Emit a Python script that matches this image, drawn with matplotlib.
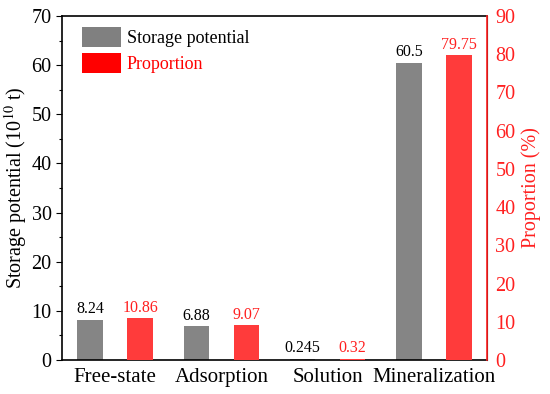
import matplotlib
matplotlib.use("Agg")
import matplotlib.pyplot as plt
import numpy as np
from matplotlib.ticker import MultipleLocator
from matplotlib.patches import Patch

categories = ["Free-state", "Adsorption", "Solution", "Mineralization"]
storage = [8.24, 6.88, 0.245, 60.5]
storage_labels = ["8.24", "6.88", "0.245", "60.5"]
proportion = [10.86, 9.07, 0.32, 79.75]
proportion_labels = ["10.86", "9.07", "0.32", "79.75"]

plt.rcParams['font.family'] = ['Liberation Serif', 'DejaVu Serif']
plt.rcParams['mathtext.fontset'] = 'stix'

GRAY = '#858585'
RED = '#FF3B3B'
TRED = '#FF2020'

fig = plt.figure(figsize=(5.5, 3.94), dpi=100)
ax = fig.add_axes([62/550, 1-360/394, (487-62)/550, (360-16)/394])
ax2 = ax.twinx()

x = np.arange(len(categories))
w = 0.24
off = 0.235
ax.bar(x - off, storage, w, color=GRAY, zorder=2)
ax2.bar(x + off, proportion, w, color=RED, zorder=2)

for xi, v, lab in zip(x, storage, storage_labels):
    ax.text(xi - off, v + 0.5, lab, ha='center', va='bottom', fontsize=11.5, color='black')
for xi, v, lab in zip(x, proportion, proportion_labels):
    ax2.text(xi + off, v + 0.6, lab, ha='center', va='bottom', fontsize=11.5, color=TRED)

ax.set_xlim(-0.5, 3.5)
ax.set_ylim(0, 70)
ax2.set_ylim(0, 90)
ax.set_xticks(x)
ax.set_xticklabels(categories, fontsize=15)
ax.tick_params(axis='x', length=0, pad=6)
ax.yaxis.set_major_locator(MultipleLocator(10))
ax.yaxis.set_minor_locator(MultipleLocator(5))
ax.tick_params(axis='y', which='major', direction='out', length=4, width=0.8, labelsize=14.5)
ax.tick_params(axis='y', which='minor', direction='out', length=2.5, width=0.8)
ax2.yaxis.set_major_locator(MultipleLocator(10))
ax2.tick_params(axis='y', which='major', length=0, labelsize=14.5, labelcolor=TRED, pad=6)
ax2.spines['right'].set_color(TRED)
ax2.spines['right'].set_linewidth(1.2)
for s in ['left', 'top', 'bottom']:
    ax.spines[s].set_linewidth(1.2)
    ax2.spines[s].set_visible(False)

ax.set_ylabel("Storage potential (10$^{10}$ t)", fontsize=14.5, labelpad=2)
ax2.set_ylabel("Proportion (%)", fontsize=14.5, color=TRED, labelpad=4)

handles = [Patch(facecolor='#808080', edgecolor='none'), Patch(facecolor='#FF0000', edgecolor='none')]
leg = ax.legend(handles, ["Storage potential", "Proportion"], loc='upper left',
                bbox_to_anchor=(0.01, 1.012), frameon=False, fontsize=13,
                handlelength=2.2, handleheight=1.3, handletextpad=0.3, labelspacing=0.35,
                borderaxespad=0.45)
leg.get_texts()[1].set_color('#FF0000')

fig.savefig("out.png", dpi=100)
